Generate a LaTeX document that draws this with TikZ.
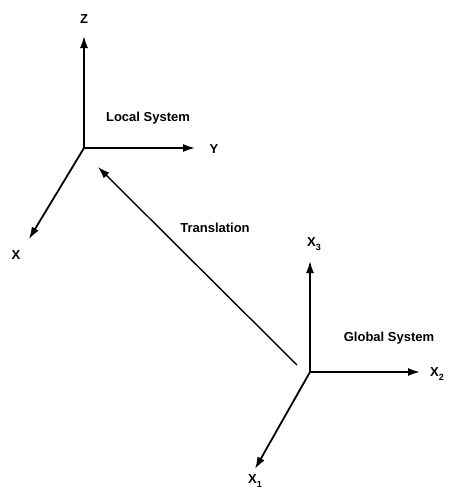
\documentclass[tikz,border=0pt]{standalone}
\usepackage{fontspec}
\setmainfont{Liberation Sans}
\usetikzlibrary{arrows.meta}
\newcommand{\subidx}[1]{\raisebox{-4pt}{\fontsize{9}{9}\selectfont #1}}
\begin{document}
\begin{tikzpicture}[x=1pt,y=-1pt,
  axis/.style={line width=1.8pt,-{Latex[length=12pt,width=8pt]}},
  trans/.style={line width=1.4pt,-{Latex[length=12pt,width=8pt]}},
  lbl/.style={font=\bfseries\fontsize{13}{14}\selectfont,inner sep=0pt}]
\useasboundingbox (0,0) rectangle (449,491);
% local system
\coordinate (lo) at (84,148);
\coordinate (lz) at (84,36);
\coordinate (ly) at (195,148);
\coordinate (lx) at (29,239);
\draw[axis] (lo) -- (lz);
\draw[axis] (lo) -- (ly);
\draw[axis] (lo) -- (lx);
\node[lbl] (Z) at (84,19) {Z};
\node[lbl] (Y) at (214,149) {Y};
\node[lbl] (X) at (16,255) {X};
\node[lbl] (ls) at (148,118) {Local System};
% global system
\coordinate (go) at (310,372);
\coordinate (g3) at (310,261);
\coordinate (g2) at (420,372);
\coordinate (g1) at (255,469);
\draw[axis] (go) -- (g3);
\draw[axis] (go) -- (g2);
\draw[axis] (go) -- (g1);
\node[lbl] (X3) at (314,244) {X\subidx{3}};
\node[lbl] (X2) at (437,374) {X\subidx{2}};
\node[lbl] (X1) at (255,481) {X\subidx{1}};
\node[lbl] (gs) at (389,338) {Global System};
% translation
\coordinate (ts) at (297,365);
\coordinate (te) at (98,167);
\draw[trans] (ts) -- (te);
\node[lbl] (tl) at (215,228) {Translation};
\end{tikzpicture}
\end{document}
